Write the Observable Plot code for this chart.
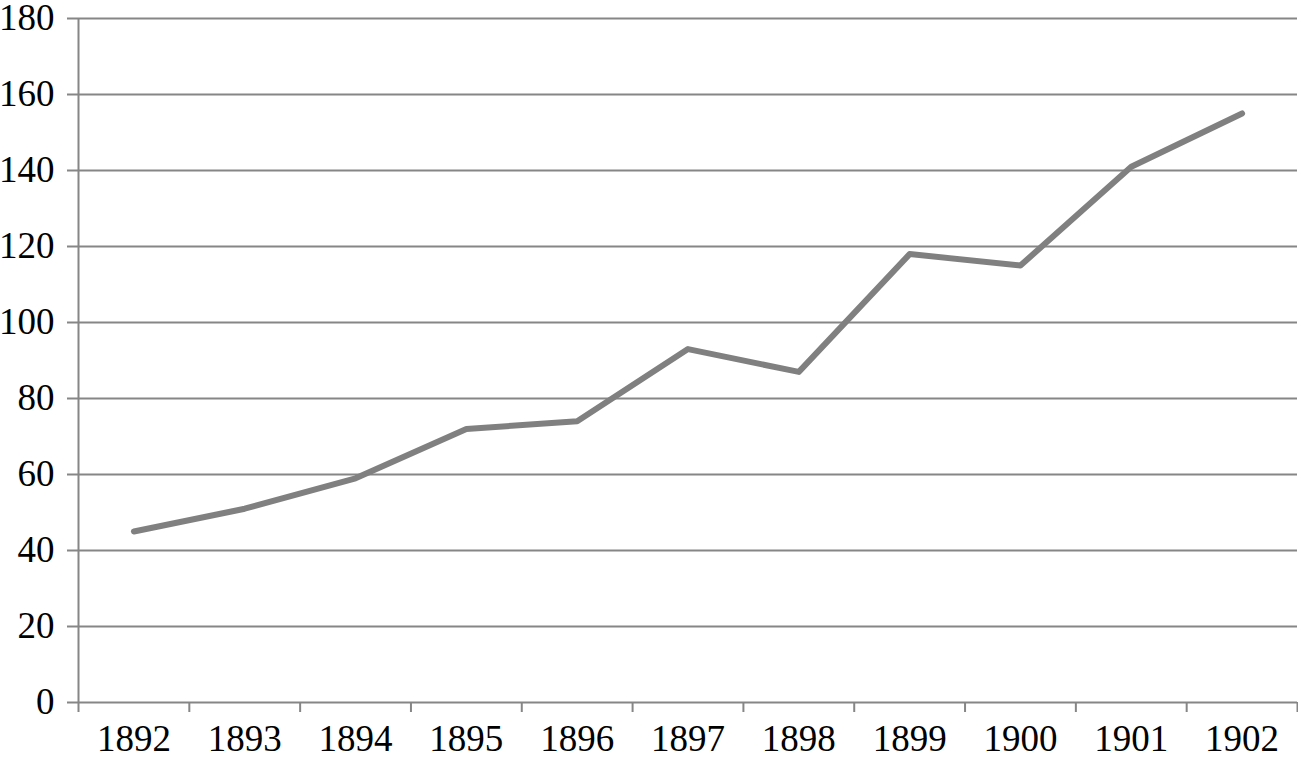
<!DOCTYPE html>
<html>
<head>
<meta charset="utf-8">
<script src="https://cdn.jsdelivr.net/npm/d3@7"></script>
<script src="https://cdn.jsdelivr.net/npm/@observablehq/plot@0.6"></script>
<style>
  html, body { margin: 0; padding: 0; background: #fff; }
  svg { display: block; }
</style>
</head>
<body>
<div id="chart"></div>
<script>
const years = [1892, 1893, 1894, 1895, 1896, 1897, 1898, 1899, 1900, 1901, 1902];
const values = [45, 51, 59, 72, 74, 93, 87, 118, 115, 141, 155];
const yTicks = [0, 20, 40, 60, 80, 100, 120, 140, 160, 180];

const data = years.map((y, i) => ({year: y, value: values[i]}));
const boundaries = years.map(y => y - 0.5).concat([years[years.length - 1] + 0.5]);

const gridColor = "#868686";
const serif = "'Liberation Serif', 'Times New Roman', serif";
const fs = 37;

const chart = Plot.plot({
  width: 1298,
  height: 762,
  marginLeft: 78,
  marginRight: 1,
  marginTop: 18,
  marginBottom: 60,
  style: {fontFamily: serif, fontSize: fs + "px", color: "#000", background: "#fff"},
  x: {type: "linear", domain: [boundaries[0], boundaries[boundaries.length - 1]], axis: null},
  y: {domain: [0, 180], axis: null},
  marks: [
    Plot.ruleY(yTicks, {y: d => d, stroke: gridColor, strokeWidth: 2, insetLeft: -11}),
    Plot.ruleX(boundaries, {x: d => d, y1: d => (d === boundaries[0] ? 180 : 0), y2: 0, insetBottom: -10, stroke: gridColor, strokeWidth: 2}),
    Plot.text(yTicks, {y: d => d, text: d => String(d), frameAnchor: "left", textAnchor: "end", dx: -24, lineAnchor: "middle", fontFamily: serif, fontSize: fs, fill: "#000"}),
    Plot.text(years, {x: d => d, text: d => String(d), frameAnchor: "bottom", textAnchor: "middle", dy: 37, lineAnchor: "middle", fontFamily: serif, fontSize: fs, fill: "#000"}),
    Plot.line(data, {x: "year", y: "value", stroke: "#808080", strokeWidth: 6, strokeLinecap: "round", strokeLinejoin: "round"})
  ]
});
document.getElementById("chart").appendChild(chart);
</script>
</body>
</html>
